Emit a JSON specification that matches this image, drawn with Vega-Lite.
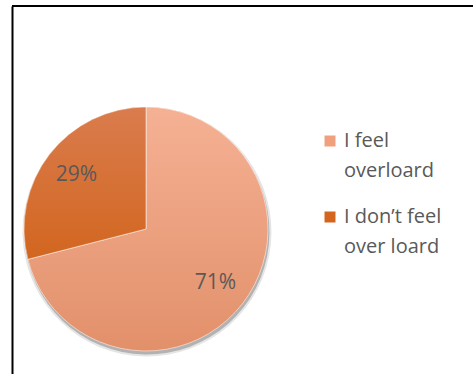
{
  "$schema": "https://vega.github.io/schema/vega-lite/v6.json",
  "width": 461,
  "height": 368,
  "autosize": {"type": "none"},
  "padding": {"left": 12, "top": 6, "right": 0, "bottom": 0},
  "background": "white",
  "view": {"stroke": "black", "strokeWidth": 2, "strokeDash": [461, 10000]},
  "config": {"style": {"guide-label": {"lineHeight": 30}}},
  "data": {
    "values": [
      {"label": "I feel overloard", "value": 0.71},
      {"label": "I don’t feel over loard", "value": 0.29}
    ]
  },
  "layer": [
    {
      "mark": {"type": "point", "opacity": 0},
      "encoding": {
        "y": {"field": "value", "type": "quantitative", "axis": {"title": null, "labels": false, "ticks": false, "grid": false, "domainColor": "black", "domainWidth": 2, "offset": 0}}
      }
    },
    {
      "mark": {"type": "arc", "x": 135, "y": 226, "outerRadius": 124.5, "color": "#000000", "opacity": 0.1, "strokeWidth": 0},
      "encoding": {
        "theta": {"field": "value", "type": "quantitative", "stack": true},
        "order": {"field": "value", "sort": "descending"}
      }
    },
    {
      "mark": {"type": "arc", "x": 135, "y": 226, "outerRadius": 122.5, "color": "#000000", "opacity": 0.22, "strokeWidth": 0},
      "encoding": {
        "theta": {"field": "value", "type": "quantitative", "stack": true},
        "order": {"field": "value", "sort": "descending"}
      }
    },
    {
      "mark": {"type": "arc", "x": 134, "y": 223, "outerRadius": 122},
      "encoding": {
        "theta": {"field": "value", "type": "quantitative", "stack": true},
        "order": {"field": "value", "sort": "descending"},
        "color": {
          "field": "label",
          "type": "nominal",
          "scale": {"domain": ["I feel overloard", "I don’t feel over loard"], "range": ["#F0A07C", "#D4651F"]},
          "legend": {
            "title": null,
            "orient": "none",
            "legendX": 308,
            "legendY": 125,
            "padding": 0,
            "symbolType": "square",
            "symbolSize": 121,
            "symbolStrokeWidth": 0,
            "labelFont": "Open Sans",
            "labelFontSize": 20,
            "labelColor": "#595959",
            "labelOffset": 4,
            "labelBaseline": "middle",
            "rowPadding": 26,
            "labelLimit": 200,
            "labelExpr": "datum.value === 'I feel overloard' ? ['I feel', 'overloard'] : ['I don’t feel', 'over loard']"
          }
        }
      }
    },
    {
      "mark": {"type": "arc", "x": 134, "y": 223, "outerRadius": 122, "stroke": "#ffffff", "strokeWidth": 1, "strokeOpacity": 0.5},
      "encoding": {
        "theta": {"field": "value", "type": "quantitative", "stack": true},
        "order": {"field": "value", "sort": "descending"},
        "fill": {
          "condition": {
            "test": "datum.label === 'I feel overloard'",
            "value": {"gradient": "linear", "x1": 0, "y1": 0, "x2": 0, "y2": 1, "stops": [{"offset": 0, "color": "#F5B194"}, {"offset": 1, "color": "#E2906A"}]}
          },
          "value": {"gradient": "linear", "x1": 0, "y1": 0, "x2": 0, "y2": 1, "stops": [{"offset": 0, "color": "#DA7C4E"}, {"offset": 1, "color": "#D2661F"}]}
        }
      }
    },
    {
      "mark": {"type": "text", "x": 134, "y": 223, "radius": 88, "font": "Open Sans", "fontSize": 21, "fill": "#595959"},
      "encoding": {
        "theta": {"field": "value", "type": "quantitative", "stack": true},
        "order": {"field": "value", "sort": "descending"},
        "text": {"field": "value", "type": "quantitative", "format": ".0%"}
      }
    }
  ]
}
